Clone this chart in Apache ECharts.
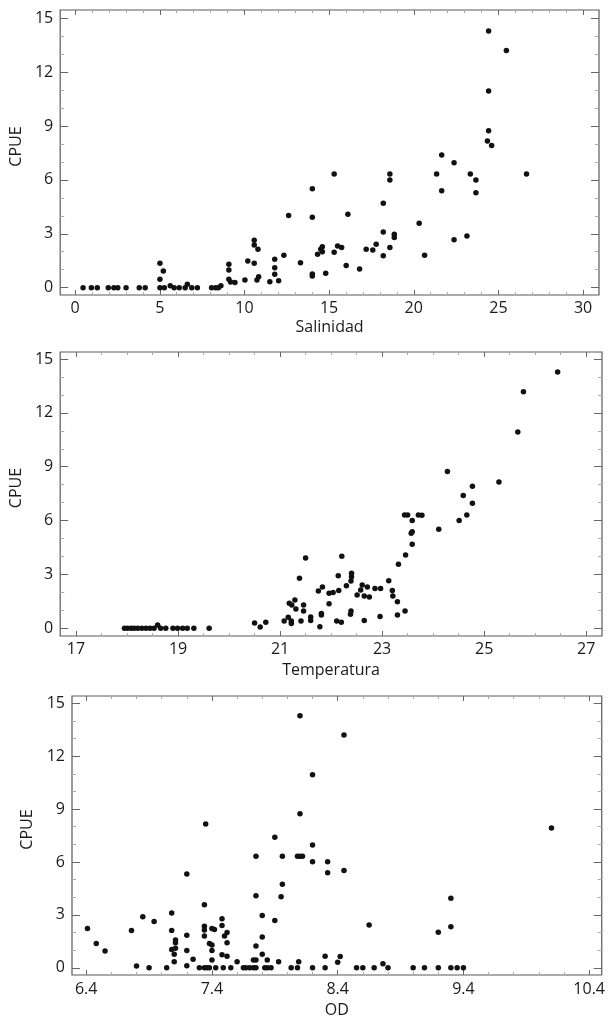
<!DOCTYPE html>
<html>
<head>
<meta charset="utf-8">
<script src="https://cdn.jsdelivr.net/npm/echarts@6/dist/echarts.min.js"></script>
<style>
  html, body { margin: 0; padding: 0; background: #fff; }
  #chart { width: 608px; height: 1019px; }
</style>
</head>
<body>
<div id="chart"></div>
<script>
// Panel 1: Salinidad vs CPUE
const salinidad = [0.47, 0.96, 1.31, 1.96, 2.29, 2.52, 3.01, 3.79, 4.14,
  5.01, 5.01, 5.01, 5.21, 5.27, 5.62, 5.85, 6.15, 6.5, 6.63, 6.89, 7.22,
  8.06, 8.3, 8.46, 8.61, 9.08, 9.08, 9.08, 9.18, 9.44,
  10.03, 10.2, 10.58, 10.58, 10.58, 10.8, 10.74, 10.84,
  11.5, 11.79, 11.79, 11.79, 12.02, 12.33, 12.61, 13.31,
  14.01, 14.01, 14.01, 14.01, 14.32, 14.51, 14.6, 14.6, 14.8,
  15.3, 15.3, 15.5, 15.74, 16.01, 16.11, 16.8, 17.19, 17.58, 17.78,
  18.2, 18.2, 18.2, 18.59, 18.59, 18.59, 18.85, 18.85,
  20.32, 20.64, 21.35, 21.65, 21.65, 22.38, 22.38, 23.14, 23.34, 23.67, 23.67,
  24.35, 24.42, 24.42, 24.42, 24.6, 25.47, 26.66];
const cpueSal = [0, 0, 0, 0, 0, 0, 0, 0, 0,
  1.36, 0.47, 0, 0.93, 0, 0.11, 0, 0, 0, 0.19, 0, 0,
  0, 0, 0, 0.1, 1.3, 0.98, 0.47, 0.32, 0.28,
  0.43, 1.49, 2.64, 2.38, 1.36, 2.14, 0.43, 0.61,
  0.33, 1.58, 1.11, 0.75, 0.39, 1.8, 4.01, 1.39,
  5.51, 3.92, 0.76, 0.65, 1.86, 2.14, 2.28, 2.0, 0.8,
  6.33, 1.97, 2.32, 2.23, 1.23, 4.09, 1.04, 2.14, 2.1, 2.41,
  4.7, 3.1, 1.77, 6.33, 6.0, 2.23, 2.97, 2.79,
  3.58, 1.8, 6.33, 7.39, 5.4, 6.96, 2.66, 2.88, 6.33, 6.0, 5.29,
  8.17, 8.74, 10.95, 14.29, 7.91, 13.2, 6.33];

// Panel 2: Temperatura vs CPUE
const temperatura = [17.95, 18.01, 18.08, 18.14, 18.21, 18.29, 18.37, 18.45, 18.53, 18.6,
  18.66, 18.76, 18.9, 18.99, 19.09, 19.18, 19.31, 19.61,
  20.5, 20.61, 20.72, 21.08, 21.16, 21.18, 21.22, 21.22, 21.23, 21.29, 21.31, 21.38,
  21.41, 21.46, 21.46, 21.5, 21.6, 21.6, 21.75, 21.78, 21.81, 21.81, 21.83,
  21.96, 21.96, 22.04, 22.11, 22.14, 22.15, 22.2, 22.21, 22.3, 22.38, 22.39, 22.39,
  22.4, 22.4, 22.51, 22.58, 22.61, 22.65, 22.65, 22.71, 22.75, 22.86, 22.96, 22.97,
  23.13, 23.2, 23.21, 23.3, 23.3, 23.32, 23.45, 23.46, 23.44, 23.5, 23.59, 23.57,
  23.59, 23.59, 23.71, 23.78, 24.11, 24.28, 24.51, 24.59, 24.66, 24.77, 24.77,
  25.29, 25.66, 25.77, 26.44];
const cpueTemp = [0, 0, 0, 0, 0, 0, 0, 0, 0, 0.18,
  0, 0, 0, 0, 0, 0, 0, 0,
  0.3, 0.07, 0.33, 0.41, 0.61, 1.39, 0.41, 0.26, 1.3, 1.58, 1.08, 2.78,
  0.41, 1.3, 0.96, 3.92, 0.63, 0.44, 2.08, 0.09, 0.83, 0.74, 2.3,
  1.95, 1.37, 2.0, 0.41, 2.93, 2.1, 0.33, 4.01, 2.37, 0.78, 0.96, 2.64,
  3.06, 2.87, 1.86, 2.13, 2.41, 1.8, 0.44, 2.3, 1.74, 2.21, 0.65, 2.21,
  2.65, 2.1, 1.8, 1.48, 0.74, 3.56, 0.96, 4.08, 6.31, 6.31, 6.0, 5.29,
  5.38, 4.68, 6.31, 6.3, 5.52, 8.73, 6.0, 7.39, 6.31, 7.91, 6.96,
  8.15, 10.94, 13.18, 14.28];

// Panel 3: OD vs CPUE
const od = [6.41, 6.48, 6.55, 6.76, 6.8, 6.85, 6.9, 6.94, 7.04, 7.08, 7.08, 7.08,
  7.1, 7.1, 7.11, 7.11, 7.11, 7.2, 7.2, 7.2, 7.2, 7.25, 7.3,
  7.34, 7.34, 7.34, 7.34, 7.34, 7.35, 7.36, 7.38, 7.38, 7.4, 7.4, 7.4, 7.4, 7.42, 7.43,
  7.48, 7.48, 7.48, 7.49, 7.5, 7.52, 7.52, 7.52, 7.55, 7.6, 7.65, 7.67, 7.7, 7.73, 7.73,
  7.75, 7.75, 7.75, 7.75, 7.75, 7.8, 7.8, 7.8, 7.82, 7.84, 7.84, 7.87, 7.9, 7.9, 7.93,
  7.95, 7.96, 7.96, 8.03, 8.08, 8.09, 8.08, 8.1, 8.12, 8.1, 8.1,
  8.2, 8.2, 8.2, 8.2, 8.3, 8.3, 8.32, 8.32, 8.4, 8.42, 8.45, 8.45,
  8.55, 8.6, 8.65, 8.69, 8.76, 8.8, 9.0, 9.09, 9.2, 9.2, 9.3, 9.3, 9.3, 9.35, 9.4, 10.1];
const cpueOd = [2.23, 1.38, 0.95, 2.12, 0.1, 2.89, 0, 2.63, 0, 3.1, 2.12, 1.04,
  0.76, 0.34, 1.57, 1.42, 1.1, 5.31, 1.85, 0.98, 0.11, 0.49, 0,
  3.57, 2.35, 2.14, 1.8, 0, 8.15, 0, 1.38, 0, 2.23, 1.29, 0.98, 0.44, 2.17, 0,
  2.78, 2.4, 0.74, 0, 1.8, 2.0, 1.42, 0.66, 0, 0.34, 0, 0, 0, 0.44, 0,
  6.32, 4.09, 1.23, 0.44, 0, 2.97, 1.74, 0.76, 0, 0.44, 0, 0, 7.4, 2.68, 0.34,
  4.02, 4.73, 6.32, 0, 0, 0.34, 6.32, 6.32, 6.32, 14.29, 8.74,
  10.95, 6.96, 6.01, 0, 0.66, 0, 6.01, 5.39, 0.31, 0.64, 13.2, 5.52,
  0, 0, 2.42, 0, 0.23, 0, 0, 0, 0, 2.01, 3.94, 2.33, 0, 0, 0, 7.93];

// tick labels
const cpueTicks = [0, 3, 6, 9, 12, 15];
const salTicks = [0, 5, 10, 15, 20, 25, 30];
const tempTicks = [17, 19, 21, 23, 25, 27];
const odTicks = [6.4, 7.4, 8.4, 9.4, 10.4];

function steps(from, to, step, skip) {
  const out = [];
  for (let v = from; v <= to + 1e-9; v += step) {
    const r = Math.round(v * 100) / 100;
    if (!skip.some(s => Math.abs(s - r) < 1e-6)) out.push(r);
  }
  return out;
}

const FONT = '"Open Sans", "Noto Sans", sans-serif';
const TEXT = '#1a1a1a';
const labelStyle = { color: TEXT, fontFamily: FONT, fontSize: 16 };

function axisSet(dim, grid, min, max, majors, minors, opts) {
  const sides = dim === 'x' ? ['bottom', 'top'] : ['left', 'right'];
  const majorLen = dim === 'x' ? 5 : 8;
  const minorLen = dim === 'x' ? 3 : 4;
  const base = {
    gridIndex: grid, type: 'value', min: min, max: max,
    splitLine: { show: false },
    axisLine: { show: false, onZero: false }
  };
  const list = [];
  sides.forEach((side, i) => {
    list.push(Object.assign({}, base, {
      position: side,
      axisTick: { inside: true, length: majorLen, customValues: majors, lineStyle: { color: '#666', width: 1 } },
      axisLabel: i === 0
        ? Object.assign({ customValues: majors, margin: opts.margin, formatter: opts.fmt }, labelStyle)
        : { show: false },
      name: i === 0 ? opts.name : '',
      nameLocation: 'middle',
      nameGap: opts.nameGap,
      nameRotate: dim === 'y' ? 90 : 0,
      nameTextStyle: Object.assign({ padding: opts.namePad || 0 }, labelStyle)
    }));
    list.push(Object.assign({}, base, {
      position: side,
      axisTick: { inside: true, length: minorLen, customValues: minors, lineStyle: { color: '#aaa', width: 1 } },
      axisLabel: { show: false }
    }));
  });
  return list;
}

const grids = [
  { left: 57, top: 10, width: 542, height: 285 },
  { left: 57, top: 352, width: 545, height: 284 },
  { left: 72, top: 696, width: 531, height: 279 }
].map(g => Object.assign(g, { show: true, borderColor: '#5a5a5a', borderWidth: 1.2, backgroundColor: '#fff' }));

const cpueMinor = steps(0, 15, 1, cpueTicks);
const yCommon = { name: 'CPUE', margin: 7, fmt: v => String(v), namePad: [0, 0, 0, 12] };

const xAxis = [].concat(
  axisSet('x', 0, -0.88, 30.94, salTicks, steps(0, 30, 1, salTicks), { name: 'Salinidad', nameGap: 24, margin: 5, fmt: v => String(v) }),
  axisSet('x', 1, 16.69, 27.31, tempTicks, steps(17, 27, 0.5, tempTicks), { name: 'Temperatura', nameGap: 26, margin: 5, fmt: v => String(v) }),
  axisSet('x', 2, 6.287, 10.5, odTicks, steps(6.4, 10.4, 0.2, odTicks), { name: 'OD', nameGap: 27, margin: 6, fmt: v => v.toFixed(1) })
);
const yAxis = [].concat(
  axisSet('y', 0, -0.41, 15.46, cpueTicks, cpueMinor, Object.assign({}, yCommon, { nameGap: 31 })),
  axisSet('y', 1, -0.43, 15.39, cpueTicks, cpueMinor, Object.assign({}, yCommon, { nameGap: 30 })),
  axisSet('y', 2, -0.41, 15.41, cpueTicks, cpueMinor, Object.assign({}, yCommon, { nameGap: 35 }))
);

function pairs(xs, ys) {
  return xs.map((v, i) => [v, ys[i]]);
}

const panels = [
  pairs(salinidad, cpueSal),
  pairs(temperatura, cpueTemp),
  pairs(od, cpueOd)
];

const series = panels.map((data, i) => ({
  type: 'scatter',
  xAxisIndex: i * 4,
  yAxisIndex: i * 4,
  data: data,
  symbol: 'circle',
  symbolSize: 5.5,
  itemStyle: { color: '#111', opacity: 1 },
  emphasis: { disabled: true }
}));

const chart = echarts.init(document.getElementById('chart'));
chart.setOption({
  backgroundColor: '#fff',
  animation: false,
  grid: grids,
  xAxis: xAxis,
  yAxis: yAxis,
  series: series
});
</script>
</body>
</html>
